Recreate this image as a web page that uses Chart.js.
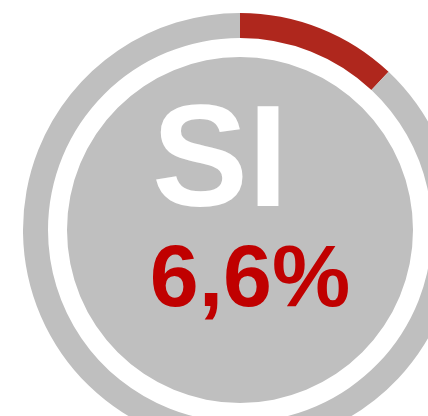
<!DOCTYPE html>
<html>
<head>
<meta charset="utf-8">
<script src="https://cdn.jsdelivr.net/npm/chart.js@4/dist/chart.umd.min.js"></script>
<style>
  html, body { margin: 0; padding: 0; background: #fff; overflow: hidden; }
  body { width: 428px; height: 416px; position: relative; }
  #wrap { position: absolute; left: 23px; top: 13px; width: 434px; height: 434px; }
  .lbl { position: absolute; font-family: "Liberation Sans", Arial, sans-serif; font-weight: bold; white-space: nowrap; transform: translateX(-50%); }
  #big { left: 220px; top: 85px; font-size: 144px; line-height: 144px; color: #fff; }
  #pct { left: 250px; top: 232px; font-size: 88px; line-height: 88px; color: #C00000; }
</style>
</head>
<body>
<div id="wrap"><canvas id="gauge" width="434" height="434"></canvas></div>
<div class="lbl" id="big">SI</div>
<div class="lbl" id="pct">6,6%</div>
<script>
// gauge data: share answering SI vs the rest of the scale
const gaugeLabels = ["SI", "Resto"];
const gaugeValues = [6.6, 48.4];
const gaugeColors = ["#AF271D", "#BFBFBF"];

// ring thickness weights: outer ring, white gap, inner disk
const ringWeights = [25, 19, 173];

const ctx = document.getElementById("gauge").getContext("2d");
new Chart(ctx, {
  type: "doughnut",
  data: {
    labels: gaugeLabels,
    datasets: [
      {
        data: gaugeValues,
        backgroundColor: gaugeColors,
        borderWidth: 0,
        weight: ringWeights[0],
      },
      {
        data: [1],
        backgroundColor: "rgba(0,0,0,0)",
        borderWidth: 0,
        weight: ringWeights[1],
      },
      {
        data: [1],
        backgroundColor: "#BFBFBF",
        borderWidth: 0,
        weight: ringWeights[2],
      },
    ],
  },
  options: {
    responsive: false,
    animation: false,
    cutout: 0,
    layout: { padding: 0 },
    events: [],
    plugins: {
      legend: { display: false },
      tooltip: { enabled: false },
    },
  },
});
</script>
</body>
</html>
